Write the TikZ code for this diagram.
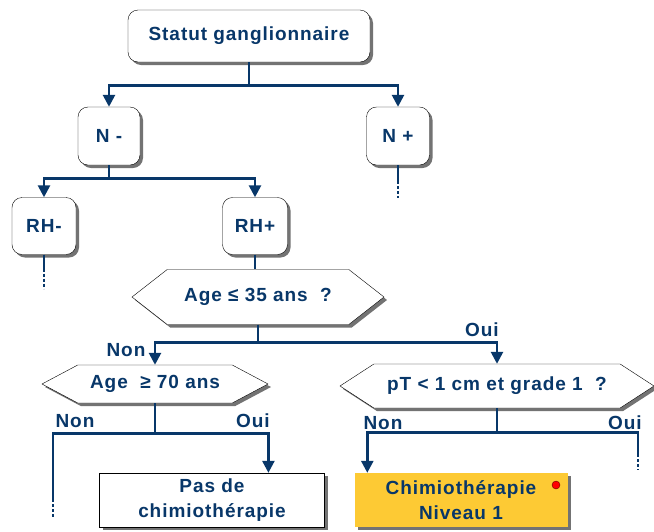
\documentclass[tikz,border=0pt]{standalone}
\usepackage{fontspec}
\setmainfont[LetterSpace=5]{Liberation Sans}
\usetikzlibrary{shapes.symbols,shadows,arrows.meta,calc}
\definecolor{navy}{RGB}{8,55,105}
\definecolor{jaune}{RGB}{253,202,52}

\begin{document}
\begin{tikzpicture}[x=1pt, y=-1pt, >={Triangle[length=12pt,width=12pt]},
    txt/.style = {text = navy, font = \fontsize{19}{25}\selectfont\bfseries, align = center},
    ombre/.style = {drop shadow = {shadow xshift = 3pt, shadow yshift = -3pt, fill = black!55, opacity = 1}},
    boite/.style = {txt, ombre, draw = black, fill = white, rounded corners = 10pt, inner sep = 0pt},
    hexa/.style = {txt, ombre, signal, signal to = east and west, draw = black, fill = white, inner sep = 0pt},
    fleche/.style = {navy, line width = 2.6pt},
    pointille/.style = {navy, line width = 2.6pt, dash pattern = on 3pt off 2pt},
    etiq/.style = {txt, inner sep = 0pt}]
    \useasboundingbox (0,0) rectangle (654,531);

    %%%%%%%%%% boites %%%%%%%%%%%%%%%%%%%
    \node [boite, minimum width = 242pt, minimum height = 52pt] (stat) at (249, 36) {Statut ganglionnaire};
    \node [boite, minimum width = 62pt, minimum height = 58pt] (nmoins) at (109, 136) {N -};
    \node [boite, minimum width = 63pt, minimum height = 58pt] (nplus) at (398, 136) {N +};
    \node [boite, minimum width = 64pt, minimum height = 57pt] (rhmoins) at (44, 226) {RH-};
    \node [boite, minimum width = 65pt, minimum height = 57pt] (rhplus) at (255, 226) {RH+};

    %%%%%%%%%% questions %%%%%%%%%%%%%%%%%%%
    \node [hexa, minimum width = 252pt, minimum height = 55pt, signal pointer angle = 76] (age35) at (258, 297) {Age ≤ 35 ans\ \ ?};
    \node [hexa, minimum width = 226pt, minimum height = 38pt, signal pointer angle = 56] (age70) at (155, 384) {Age\ \ ≥ 70 ans};
    \node [hexa, minimum width = 314pt, minimum height = 44pt, signal pointer angle = 66] (pt) at (497, 386) {pT < 1 cm et grade 1\ \ ?};

    %%%%%%%%%% decisions %%%%%%%%%%%%%%%%%%%
    \node [boite, rounded corners = 0pt, minimum width = 225pt, minimum height = 54pt] (pasde) at (212, 500) {Pas de\\chimiothérapie};
    \node [boite, rounded corners = 0pt, draw = none, fill = jaune, minimum width = 213pt, minimum height = 54pt] (chimio) at (461, 500) {Chimiothérapie\\Niveau 1};
    \node [circle, fill = red, draw = red!40!black, minimum size = 8pt, inner sep = 0pt] (point) at (556, 485) {};

    %%%%%%%%%% liens %%%%%%%%%%%%%%%%%%%
    \draw [fleche] (stat.south)  --  ++(0, 23) coordinate (b1);
    \draw [fleche, ->] (b1)  -|  (nmoins.north);
    \draw [fleche, ->] (b1)  -|  (nplus.north);

    \draw [fleche] (nmoins.south)  --  ++(0, 13) coordinate (b2);
    \draw [fleche, ->] (b2)  -|  (rhmoins.north);
    \draw [fleche, ->] (b2)  -|  (rhplus.north);

    \draw [fleche] (nplus.south)  --  ++(0, 16) coordinate (nplusfin);
    \draw [pointille] (nplusfin)  --  ++(0, 17);
    \draw [fleche] (rhmoins.south)  --  ++(0, 14) coordinate (rhmoinsfin);
    \draw [pointille] (rhmoinsfin)  --  ++(0, 20);

    \draw [fleche] (rhplus.south)  --  (rhplus.south |- age35.north);

    \draw [fleche] (age35.south)  --  ++(0, 18) coordinate (b3);
    \draw [fleche, ->] (b3)  -|  (age70.north);
    \draw [fleche, ->] (b3)  -|  (pt.north);
    \node [etiq] (non1) at (126, 350) {Non};
    \node [etiq] (oui1) at (482, 330) {Oui};

    \draw [fleche] (age70.south)  --  ++(0, 30) coordinate (b4);
    \draw [fleche] (b4)  -|  ++(-102, 66) coordinate (age70fin);
    \draw [pointille] (age70fin)  --  ++(0, 18);
    \draw [fleche, ->] (b4)  -|  (pasde.north -| age70.east);
    \node [etiq] (non2) at (75, 421) {Non};
    \node [etiq] (oui2) at (253, 421) {Oui};

    \draw [fleche] (pt.south)  --  ++(0, 24) coordinate (b5);
    \draw [fleche, ->] (b5)  -|  ($(chimio.north west) + (13, 0)$);
    \draw [fleche] (b5)  -|  ++(141, 22) coordinate (ptfin);
    \draw [pointille] (ptfin)  --  ++(0, 16);
    \node [etiq] (non3) at (383, 423) {Non};
    \node [etiq] (oui3) at (625, 423) {Oui};

\end{tikzpicture}
\end{document}
